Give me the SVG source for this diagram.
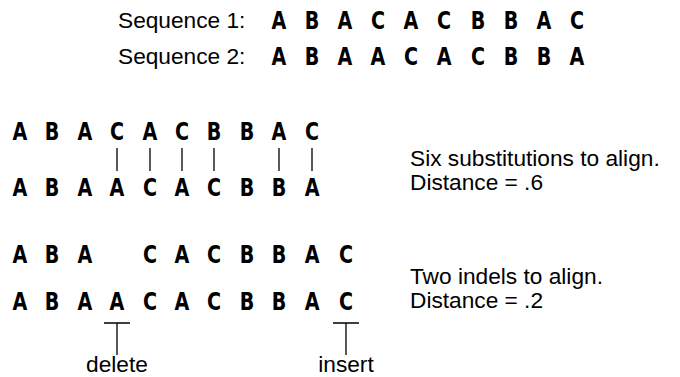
<svg xmlns="http://www.w3.org/2000/svg" width="680" height="377" viewBox="0 0 680 377">
<style>
.lbl{font-family:"Liberation Sans",Arial,sans-serif;font-size:22.7px;fill:#000}
.seq{font-family:"DejaVu Sans Condensed","DejaVu Sans",sans-serif;font-weight:bold;font-size:25px;fill:#000;text-anchor:middle}
.ln{stroke:#000;stroke-width:1.3;fill:none}
</style>
<rect width="680" height="377" fill="#fff"/>
<g id="seq1">
<text class="lbl" x="118" y="28">Sequence 1:</text>
<text class="seq" y="29" transform="scale(0.85,1)"><tspan x="328.2">A</tspan><tspan x="367.1">B</tspan><tspan x="405.9">A</tspan><tspan x="444.7">C</tspan><tspan x="483.5">A</tspan><tspan x="522.4">C</tspan><tspan x="562.4">B</tspan><tspan x="601.2">B</tspan><tspan x="640">A</tspan><tspan x="678.8">C</tspan></text>
</g>
<g id="seq2">
<text class="lbl" x="118" y="64">Sequence 2:</text>
<text class="seq" y="65" transform="scale(0.85,1)"><tspan x="328.2">A</tspan><tspan x="367.1">B</tspan><tspan x="405.9">A</tspan><tspan x="444.7">A</tspan><tspan x="483.5">C</tspan><tspan x="522.4">A</tspan><tspan x="562.4">C</tspan><tspan x="601.2">B</tspan><tspan x="640">B</tspan><tspan x="678.8">A</tspan></text>
</g>
<g id="subst-align" transform="scale(0.85,1)">
<text class="seq" y="140"><tspan x="23.5">A</tspan><tspan x="61.2">B</tspan><tspan x="100">A</tspan><tspan x="137.6">C</tspan><tspan x="176.5">A</tspan><tspan x="214.1">C</tspan><tspan x="251.8">B</tspan><tspan x="290.6">B</tspan><tspan x="328.2">A</tspan><tspan x="367.1">C</tspan></text>
<text class="seq" y="196"><tspan x="23.5">A</tspan><tspan x="61.2">B</tspan><tspan x="100">A</tspan><tspan x="137.6">A</tspan><tspan x="176.5">C</tspan><tspan x="214.1">A</tspan><tspan x="251.8">C</tspan><tspan x="290.6">B</tspan><tspan x="328.2">B</tspan><tspan x="367.1">A</tspan></text>
</g>
<g id="subst-bars" class="ln">
<line x1="117" y1="148" x2="117" y2="171"/>
<line x1="150" y1="148" x2="150" y2="171"/>
<line x1="182" y1="148" x2="182" y2="171"/>
<line x1="214" y1="148" x2="214" y2="171"/>
<line x1="279" y1="148" x2="279" y2="171"/>
<line x1="312" y1="148" x2="312" y2="171"/>
</g>
<g id="subst-note">
<text class="lbl" x="410" y="166">Six substitutions to align.</text>
<text class="lbl" x="410" y="190">Distance = .6</text>
</g>
<g id="indel-align" transform="scale(0.85,1)">
<text class="seq" y="263"><tspan x="23.5">A</tspan><tspan x="61.2">B</tspan><tspan x="100">A</tspan><tspan x="176.5">C</tspan><tspan x="214.1">A</tspan><tspan x="251.8">C</tspan><tspan x="290.6">B</tspan><tspan x="328.2">B</tspan><tspan x="367.1">A</tspan><tspan x="407.1">C</tspan></text>
<text class="seq" y="310"><tspan x="23.5">A</tspan><tspan x="61.2">B</tspan><tspan x="100">A</tspan><tspan x="137.6">A</tspan><tspan x="176.5">C</tspan><tspan x="214.1">A</tspan><tspan x="251.8">C</tspan><tspan x="290.6">B</tspan><tspan x="328.2">B</tspan><tspan x="367.1">A</tspan><tspan x="407.1">C</tspan></text>
</g>
<g id="indel-note">
<text class="lbl" x="410" y="284">Two indels to align.</text>
<text class="lbl" x="410" y="308">Distance = .2</text>
</g>
<g id="connectors" class="ln">
<path d="M104,323 H130 M117,323 V355"/>
<path d="M333,323 H359 M346,323 V355"/>
</g>
<g id="delete">
<text class="lbl" x="117" y="372" text-anchor="middle">delete</text>
</g>
<g id="insert">
<text class="lbl" x="346" y="372" text-anchor="middle">insert</text>
</g>
</svg>
